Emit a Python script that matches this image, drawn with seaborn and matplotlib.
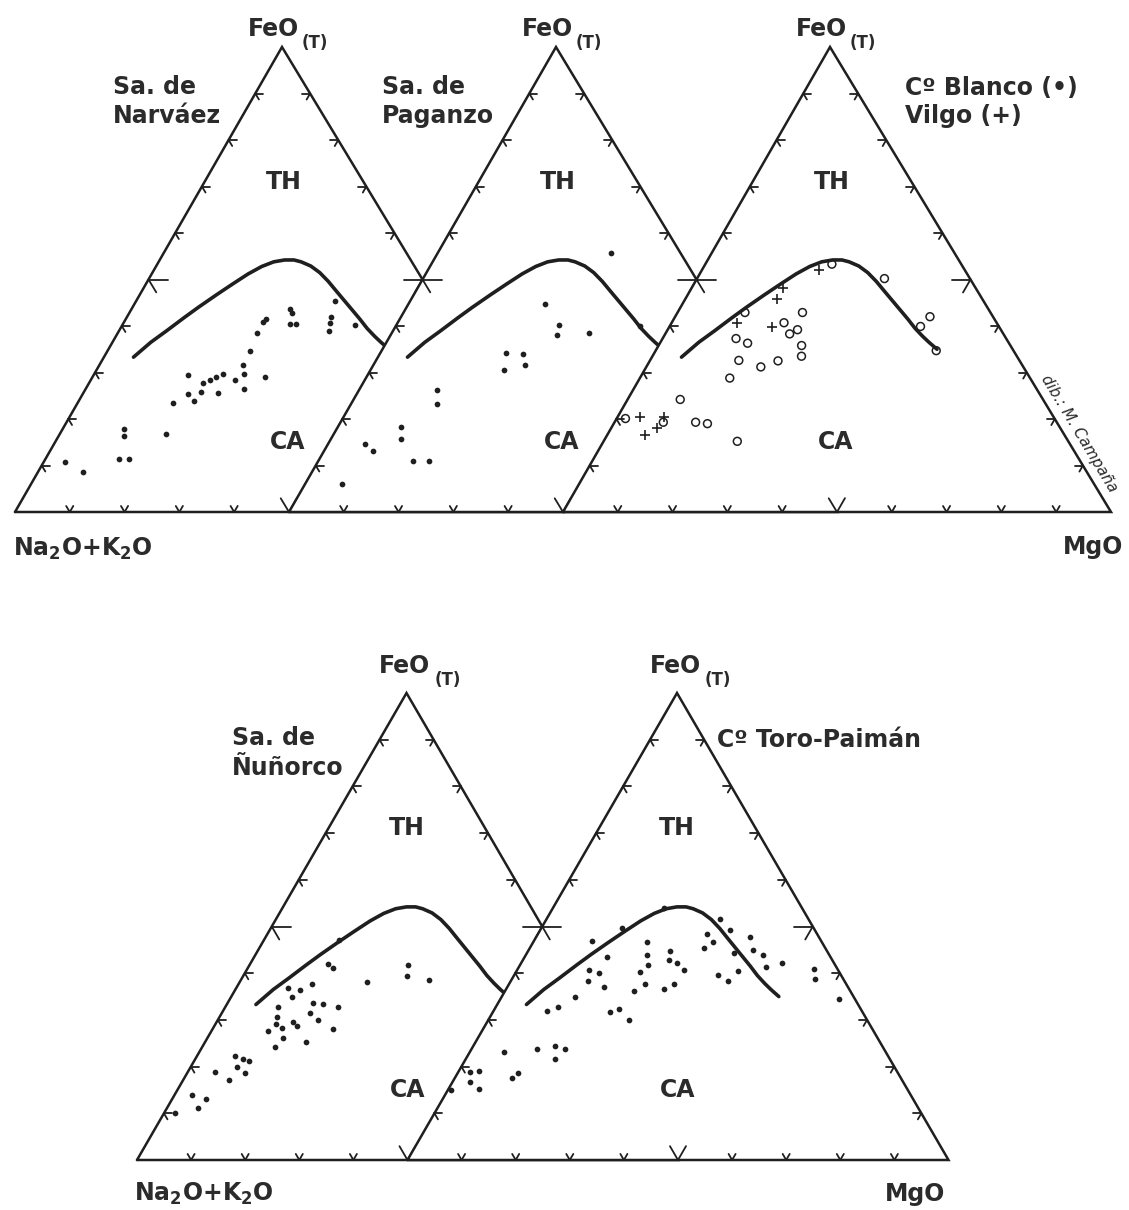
import numpy as np
import matplotlib
matplotlib.use("Agg")
import matplotlib.pyplot as plt
from matplotlib.collections import LineCollection
import seaborn as sns

# ---------------------------------------------------------------
# AFM data, values in % of FeO(T) and MgO (alkalis = remainder)
# ---------------------------------------------------------------
boundary_feo = [33.3, 36.5, 39.0, 41.8, 44.0, 46.7, 49.0, 51.2, 52.8, 53.8, 54.2, 54.2,
                53.8, 52.9, 51.5, 49.6, 47.5, 45.5, 43.5, 41.5, 39.5, 37.8, 36.5, 35.0]
boundary_mgo = [5.4, 7.0, 8.7, 10.5, 12.0, 14.0, 15.8, 17.6, 19.3, 21.0, 22.8, 24.5,
                26.0, 28.2, 30.5, 33.0, 35.5, 37.9, 40.3, 42.7, 45.0, 47.2, 49.0, 51.2]

narvaez_feo = [10.8, 8.6, 17.8, 16.3, 11.5, 11.4, 16.7, 23.4, 29.4, 25.3, 23.8, 25.7,
               27.7, 28.4, 29.0, 29.7, 25.5, 28.3, 31.6, 29.7, 26.4, 29.0, 34.6, 38.4,
               40.9, 41.6, 43.7, 42.8, 40.5, 40.5, 42.0, 40.7, 38.9, 45.4, 40.2]
narvaez_mgo = [3.9, 8.3, 11.2, 11.9, 13.4, 15.3, 19.5, 17.5, 17.3, 19.3, 21.1, 21.5,
               20.8, 21.7, 22.6, 23.4, 24.6, 26.3, 26.2, 27.4, 29.0, 31.4, 26.0, 25.4,
               25.3, 25.6, 28.9, 29.7, 30.4, 31.5, 37.2, 37.7, 38.4, 36.2, 42.4]

paganzo_feo = [6.0, 14.6, 13.1, 18.3, 15.7, 11.0, 11.0, 26.3, 23.3, 34.3, 34.0, 30.6,
               31.6, 44.8, 40.3, 38.1, 38.4, 55.6, 39.9]
paganzo_mgo = [6.7, 6.8, 9.0, 11.6, 12.8, 17.3, 20.2, 14.2, 15.7, 22.9, 26.1, 24.4,
               27.7, 24.8, 29.7, 30.3, 36.1, 31.6, 44.6]

blanco_feo = [20.1, 19.3, 24.2, 19.3, 19.0, 15.2, 28.8, 32.6, 37.3, 36.3, 42.9, 31.2,
              32.5, 40.7, 38.3, 39.2, 42.9, 35.8, 33.5, 53.3, 50.2, 42.0, 39.9, 34.7]
blanco_mgo = [1.6, 8.9, 9.6, 14.8, 17.1, 24.4, 16.4, 16.2, 13.4, 16.0, 12.3, 20.9,
              23.4, 20.5, 22.7, 23.7, 22.8, 26.1, 27.2, 23.1, 34.2, 46.5, 45.8, 51.2]

vilgo_feo = [20.4, 16.6, 18.0, 20.4, 40.7, 39.8, 45.7, 48.1, 52.0]
vilgo_mgo = [4.1, 6.9, 8.4, 8.4, 11.9, 18.8, 16.8, 16.8, 21.4]

nunorco_feo = [10.1, 14.0, 13.0, 11.1, 18.9, 17.1, 22.3, 21.6, 21.2, 20.0, 18.7, 24.3,
               26.1, 27.6, 32.8, 30.7, 29.2, 28.2, 29.6, 28.8, 36.8, 36.4, 35.0, 37.6,
               33.6, 33.5, 31.5, 30.0, 32.7, 28.0, 25.3, 42.0, 41.2, 47.1, 38.1, 41.8,
               39.5, 38.5]
nunorco_mgo = [2.0, 3.1, 6.3, 5.8, 5.0, 8.5, 7.0, 8.9, 10.2, 8.6, 10.6, 13.4,
               14.0, 10.5, 9.8, 10.6, 11.1, 12.8, 14.1, 15.3, 9.5, 12.0, 11.2, 13.7,
               15.8, 17.7, 16.2, 18.5, 20.8, 22.2, 18.7, 14.4, 15.7, 13.8, 23.5, 29.3,
               30.2, 34.8]

toro_feo = [15.0, 18.8, 19.1, 16.8, 15.2, 23.2, 17.6, 18.6, 23.8, 24.4, 23.7, 21.7,
            31.9, 32.8, 34.9, 47.0, 43.4, 40.6, 40.0, 38.4, 37.0, 31.6, 32.4, 29.9,
            49.6, 36.1, 40.2, 41.8, 46.6, 43.8, 37.7, 53.9, 36.7, 44.7, 42.8, 42.2,
            40.6, 37.7, 45.3, 46.6, 48.3, 51.7, 49.2, 44.4, 39.7, 38.4, 40.5, 47.7,
            44.9, 43.9, 41.4, 42.2, 40.8, 38.7, 34.4]
toro_mgo = [0.6, 2.2, 3.7, 3.2, 5.6, 6.3, 10.5, 11.1, 12.1, 15.2, 17.3, 16.4,
            9.9, 11.4, 13.6, 10.7, 15.3, 13.3, 15.4, 14.3, 17.9, 21.7, 22.9, 26.0,
            14.9, 23.8, 22.9, 23.7, 21.0, 22.5, 25.2, 20.5, 29.1, 26.2, 27.1, 28.8,
            30.9, 30.4, 32.3, 33.3, 31.3, 32.0, 35.1, 38.2, 37.7, 40.2, 41.0, 39.5,
            41.5, 43.9, 45.6, 48.2, 54.9, 56.1, 62.6]

panel_titles = [["Sa. de", "Narváez"], ["Sa. de", "Paganzo"],
                ["Cº Blanco (•)", "Vilgo (+)"], ["Sa. de", "Ñuñorco"],
                ["Cº Toro-Paimán"]]
field_labels = ["TH", "CA"]
apex_label, apex_sub = "FeO", "(T)"
left_label = r"Na$_\mathbf{2}$O+K$_\mathbf{2}$O"
right_label = "MgO"
credit = "dib.: M. Campaña"

# ---------------------------------------------------------------
# Geometry of the overlapping triangles (drawing units = pixels)
# ---------------------------------------------------------------
TOP_ROW = dict(base=512.0, height=465.0, side=548.0, shear=-7.0)
BOTTOM_ROW = dict(base=1160.0, height=467.0, side=541.0, shear=-1.0)
panels = [
    dict(TOP_ROW, x0=15.0),
    dict(TOP_ROW, x0=15.0 + 274.0),
    dict(TOP_ROW, x0=15.0 + 548.0),
    dict(BOTTOM_ROW, x0=137.0),
    dict(BOTTOM_ROW, x0=137.0 + 270.5),
]

INK = "#1f1f1f"
TXT = "#2b2b2b"


def to_xy(p, feo, mgo):
    """Ternary (FeO, MgO) in % -> drawing coordinates of panel p."""
    f = np.asarray(feo, float) / 100.0
    m = np.asarray(mgo, float) / 100.0
    xn = m + f / 2.0
    yn = f
    return p["x0"] + p["side"] * xn + p["shear"] * yn, p["base"] - p["height"] * yn


def unit(p, dxn, dyn):
    vx = p["side"] * dxn + p["shear"] * dyn
    vy = -p["height"] * dyn
    n = np.hypot(vx, vy)
    return np.array([vx / n, vy / n])


def tick_segments(p):
    segs = []
    for k in range(1, 10):
        big = k == 5
        f = 10.0 * k
        la, lb = (19, 15) if big else (8, 7)
        # left edge: arms along constant FeO and constant alkalis
        P = np.array(to_xy(p, f, 0.0))
        segs += [[P, P + la * unit(p, 1, 0)], [P, P + lb * unit(p, 0.5, -1)]]
        # right edge: arms along constant FeO and constant MgO
        P = np.array(to_xy(p, f, 100.0 - f))
        segs += [[P, P + la * unit(p, -1, 0)], [P, P + lb * unit(p, -0.5, -1)]]
        # base: two arms pointing up into the diagram
        lv = 16 if big else 7
        P = np.array(to_xy(p, 0.0, f))
        segs += [[P, P + lv * unit(p, -0.5, 1)], [P, P + lv * unit(p, 0.5, 1)]]
    return segs


sns.set_theme(style="white")
plt.rcParams["font.family"] = ["DejaVu Sans"]
plt.rcParams["mathtext.fontset"] = "dejavusans"

fig = plt.figure(figsize=(11.29, 12.10), dpi=100)
ax = fig.add_axes([0, 0, 1, 1])

series = [
    [(narvaez_feo, narvaez_mgo, "dot")],
    [(paganzo_feo, paganzo_mgo, "dot")],
    [(blanco_feo, blanco_mgo, "circle"), (vilgo_feo, vilgo_mgo, "plus")],
    [(nunorco_feo, nunorco_mgo, "dot")],
    [(toro_feo, toro_mgo, "dot")],
]

title_pos = [(113, 94, 29), (382, 94, 29), (905, 95, 28), (232, 745, 30), (717, 747, 30)]

for i, p in enumerate(panels):
    z = 10 * (i + 1)
    vx, vy = to_xy(p, [0, 100, 0, 0], [0, 0, 100, 0])
    # white body hides the part of the previous triangle underneath
    ax.fill(vx, vy, color="white", zorder=z, lw=0)
    ax.add_collection(LineCollection(tick_segments(p), colors=INK, linewidths=1.3,
                                     zorder=z + 2, capstyle="round"))
    ax.plot(vx, vy, color=INK, lw=1.8, zorder=z + 3, solid_joinstyle="miter")

    bx, by = to_xy(p, boundary_feo, boundary_mgo)
    sns.lineplot(x=bx, y=by, sort=False, estimator=None, color=INK, lw=2.6,
                 ax=ax, zorder=z + 4)

    for feo, mgo, kind in series[i]:
        px, py = to_xy(p, feo, mgo)
        if kind == "dot":
            sns.scatterplot(x=px, y=py, ax=ax, color=INK, s=17, linewidth=0,
                            marker="o", legend=False, zorder=z + 5)
        elif kind == "circle":
            sns.scatterplot(x=px, y=py, ax=ax, color=INK, facecolor="none",
                            edgecolor=INK, s=32, linewidth=1.1, marker="o",
                            legend=False, zorder=z + 5)
        else:
            sns.scatterplot(x=px, y=py, ax=ax, color=INK, s=46, linewidth=1.2,
                            marker="+", legend=False, zorder=z + 5)

    # field names
    tx, ty = to_xy(p, 71, 14.5)
    ax.text(tx, ty, field_labels[0], ha="center", va="center", fontsize=17,
            fontweight="bold", color=TXT, zorder=z + 6)
    cx, cy = to_xy(p, 15, 42.5)
    ax.text(cx, cy, field_labels[1], ha="center", va="center", fontsize=17,
            fontweight="bold", color=TXT, zorder=z + 6)

    # apex label
    axp, ayp = to_xy(p, 100, 0)
    top = i < 3
    ax.text(axp + (17 if top else 24), ayp - (11 if top else 20), apex_label,
            ha="right", va="baseline", fontsize=17, fontweight="bold", color=TXT,
            zorder=z + 6)
    ax.text(axp + (20 if top else 28), ayp + (1 if top else -8), apex_sub,
            ha="left", va="baseline", fontsize=12, fontweight="bold", color=TXT,
            zorder=z + 6)

    # suite names
    x_t, y_t, dy = title_pos[i]
    for j, line in enumerate(panel_titles[i]):
        ax.text(x_t, y_t + j * dy, line, ha="left", va="baseline", fontsize=17,
                fontweight="bold", color=TXT, zorder=z + 6)

# corner labels of each row
ax.text(13, 556, left_label, ha="left", va="baseline", fontsize=17,
        fontweight="bold", color=TXT)
ax.text(1123, 554, right_label, ha="right", va="baseline", fontsize=17,
        fontweight="bold", color=TXT)
ax.text(134, 1201, left_label, ha="left", va="baseline", fontsize=17,
        fontweight="bold", color=TXT)
ax.text(945, 1201, right_label, ha="right", va="baseline", fontsize=17,
        fontweight="bold", color=TXT)

# draughtsman credit along the right edge of the third diagram
ax.text(1079, 434, credit, ha="center", va="center", rotation=-58.9,
        rotation_mode="anchor", fontsize=11, fontstyle="italic", color=TXT,
        zorder=60)

ax.set_xlim(0, 1129)
ax.set_ylim(1210, 0)
ax.axis("off")
fig.savefig("out.png", dpi=100, facecolor="white")
